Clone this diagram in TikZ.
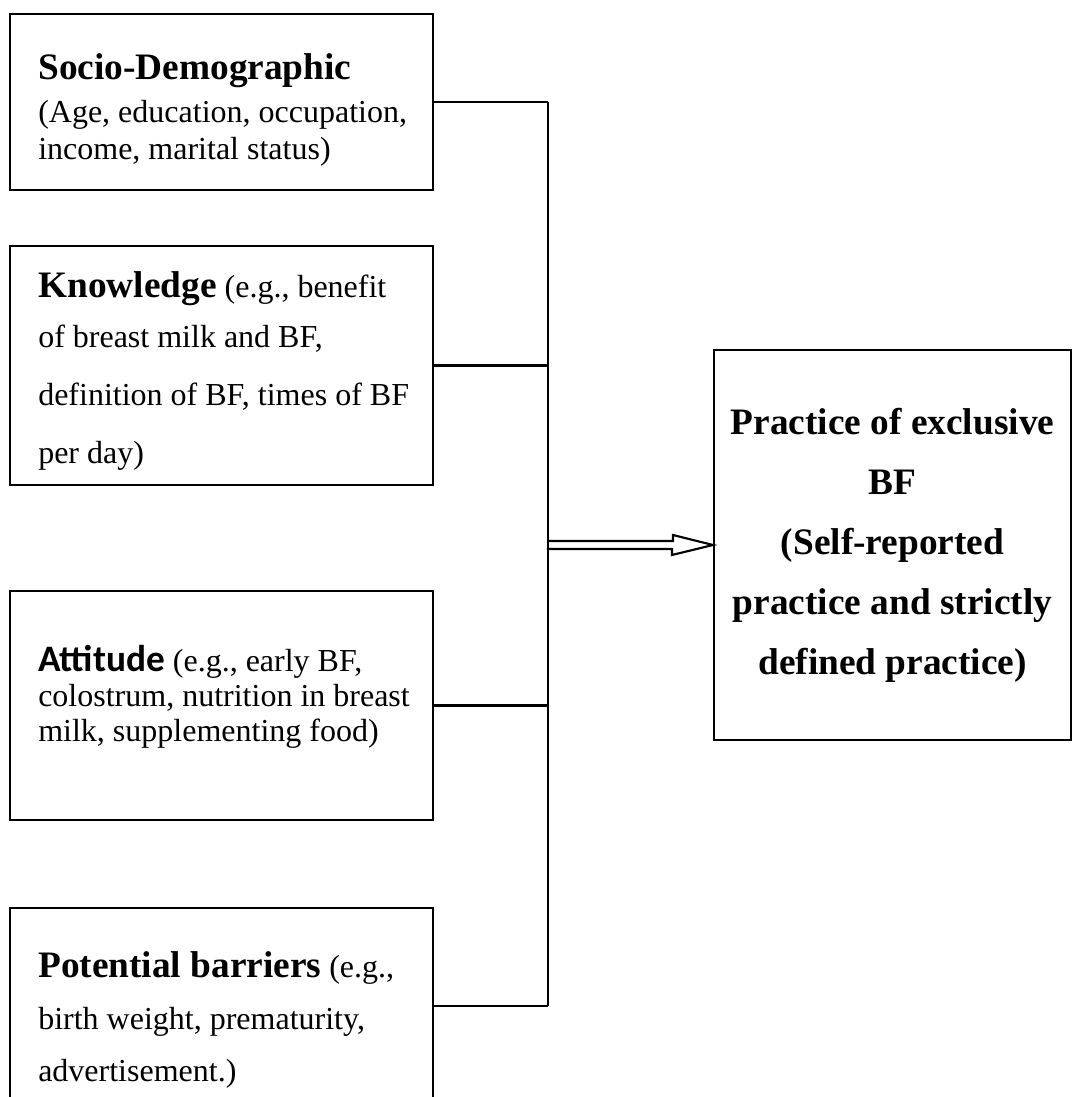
\documentclass[tikz,border=0pt]{standalone}
\usepackage{fontspec}
\setmainfont{Liberation Serif}
\newfontfamily\calibri{Carlito}
\newcommand{\hd}[1]{{\fontsize{28}{28}\selectfont\bfseries #1}}

\begin{document}
\begin{tikzpicture}[x=0.75pt,y=-0.75pt,
    box/.style={draw,line width=1.6pt,minimum width=317.25pt,inner sep=0pt},
    txt/.style={anchor=north west,inner sep=0pt,align=left}]
  \useasboundingbox (0,0) rectangle (1072,1097);
  % boxes on the left
  \node[box,minimum height=132pt] (socio) at (221.5,102) {};
  \node[box,minimum height=179.25pt] (know) at (221.5,365.5) {};
  \node[box,minimum height=171.75pt] (att) at (221.5,705.5) {};
  \node[box,minimum height=147pt] (barrier) at (221.5,1006) {};
  % texts
  \node[txt,font=\fontsize{24}{27.75}\selectfont] (sociotxt) at (38,53)
    {\hd{Socio-Demographic}\\[4.5pt]
     (Age, education, occupation,\\
     income, marital status)};
  \node[txt,font=\fontsize{24}{43.5}\selectfont] (knowtxt) at (38,271)
    {\hd{Knowledge} (e.g., benefit\\[-6pt]
     of breast milk and BF,\\
     definition of BF, times of BF\\
     per day)};
  \node[txt,font=\fontsize{24}{26.25}\selectfont] (atttxt) at (38,645)
    {{\calibri\fontsize{28}{28}\selectfont\bfseries Attitude} (e.g., early BF,\\
     colostrum, nutrition in breast\\
     milk, supplementing food)};
  \node[txt,font=\fontsize{24}{39}\selectfont] (barriertxt) at (38,951)
    {\hd{Potential barriers} (e.g.,\\
     birth weight, prematurity,\\
     advertisement.)};
  % outcome
  \node[box,minimum width=267.75pt,minimum height=292.5pt] (practice) at (892.5,545) {};
  \node[align=center,inner sep=0pt,font=\fontsize{28}{45}\selectfont\bfseries] (practicetxt)
    at (practice.center)
    {Practice of exclusive\\
     BF\\
     (Self-reported\\
     practice and strictly\\
     defined practice)};
  % connectors
  \coordinate (j) at (548,545);
  \foreach \b in {socio,know,att,barrier}
    {\draw[line width=1.6pt] (\b.east) -- (\b.east -| j);}
  \draw[line width=1.6pt] (socio.east -| j) -- (barrier.east -| j);
  % open arrow
  \draw[line width=1.6pt,line join=miter] (j) ++(0,-4) -- ++(125,0) -- ++(0,-6)
    -- (practice.west) -- ++(-41,10) -- ++(0,-6) -- ++(-125,0);
\end{tikzpicture}
\end{document}
